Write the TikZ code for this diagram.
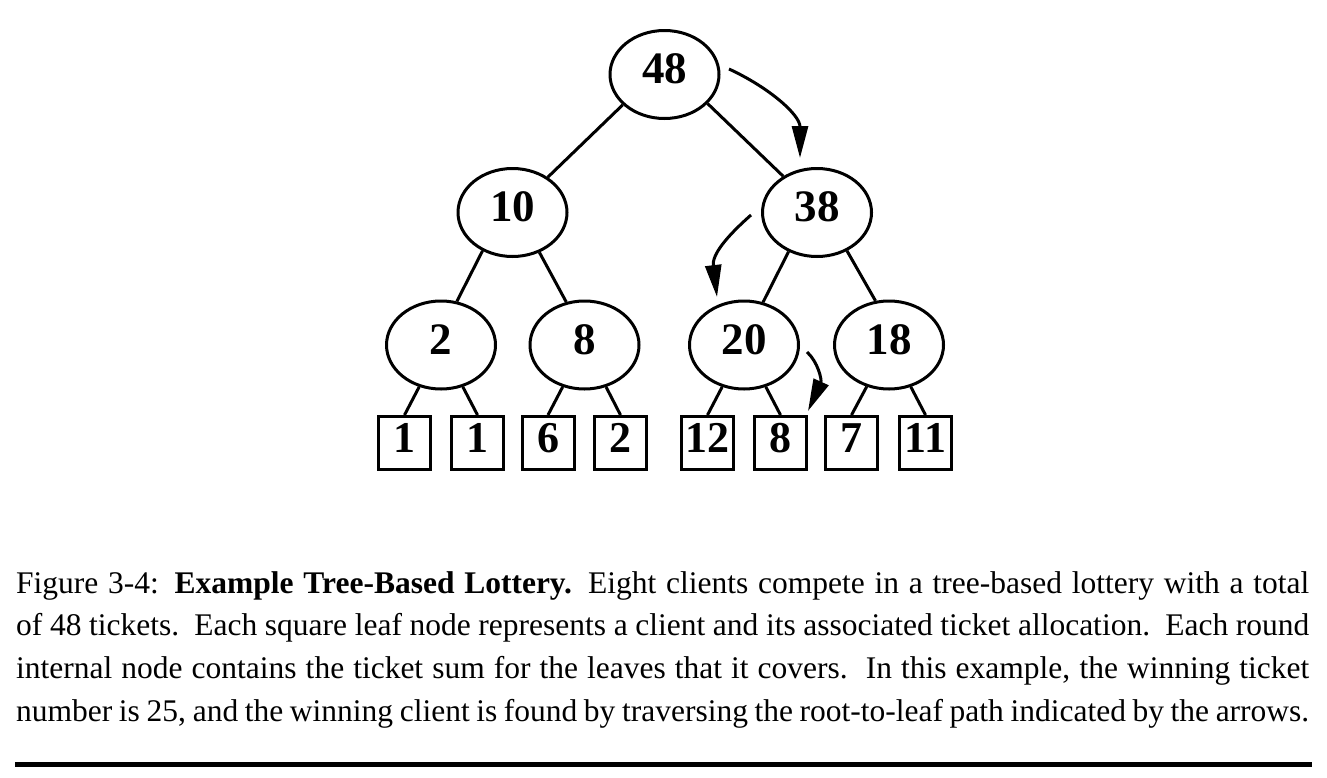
\documentclass[tikz,border=0pt]{standalone}
\usepackage{fontspec}
\setmainfont{Liberation Serif}
\usetikzlibrary{shapes.geometric,arrows.meta}
\begin{document}
\begin{tikzpicture}[x=1pt,y=-1pt,
  inner/.style={draw,ellipse,line width=3pt,minimum width=109pt,minimum height=88pt,inner sep=0pt,
    font=\fontsize{45}{45}\selectfont\bfseries,text height=30pt,text depth=12pt},
  leaf/.style={draw,rectangle,line width=3pt,minimum width=52pt,minimum height=53pt,inner sep=0pt,
    font=\fontsize{44}{44}\selectfont\bfseries,text height=30pt,text depth=12pt},
  edge/.style={line width=3pt},
  walk/.style={line width=3pt,-{Triangle[length=32pt,width=16pt]}}
]
\useasboundingbox (0,0) rectangle (1327,777);

% internal nodes
\node[inner] (n48) at (664.5,74.5) {48};
\node[inner] (n10) at (512.5,212.5) {10};
\node[inner] (n38) at (817,212.5) {38};
\node[inner] (n2)  at (441,345) {2};
\node[inner] (n8)  at (584.5,345) {8};
\node[inner] (n20) at (744,345) {20};
\node[inner] (n18) at (889,345) {18};

% leaves
\node[leaf] (l1) at (404.5,443) {1};
\node[leaf] (l2) at (477.5,443) {1};
\node[leaf] (l3) at (548,443) {6};
\node[leaf] (l4) at (620.5,443) {2};
\node[leaf] (l5) at (707.5,443) {12};
\node[leaf] (l6) at (780.5,443) {8};
\node[leaf] (l7) at (851.5,443) {7};
\node[leaf] (l8) at (925.5,443) {11};

% tree edges
\draw[edge] (n48.216) -- (n10.45);
\draw[edge] (n48.326) -- (n38.133);
\draw[edge] (n10.232) -- (n2.70);
\draw[edge] (n10.304) -- (n8.113);
\draw[edge] (n38.234) -- (n20.66);
\draw[edge] (n38.308) -- (n18.107);
\draw[edge] (n2) -- (l1.north);
\draw[edge] (n2) -- (l2.north);
\draw[edge] (n8) -- (l3.north);
\draw[edge] (n8) -- (l4.north);
\draw[edge] (n20) -- (l5.north);
\draw[edge] (n20) -- (l6.north);
\draw[edge] (n18) -- (l7.north);
\draw[edge] (n18) -- (l8.north);

% traversal arrows
\coordinate (a1s) at (729,69);
\coordinate (a1e) at (800,158);
\coordinate (a2s) at (751,215);
\coordinate (a2e) at (717,297);
\coordinate (a3s) at (807,352);
\coordinate (a3e) at (808,411);
\draw[walk] (a1s) .. controls (770,88) and (800,115) .. (a1e);
\draw[walk] (a2s) .. controls (725,238) and (712,255) .. (a2e);
\draw[walk] (a3s) .. controls (818,362) and (822,380) .. (a3e);

% caption
\node[anchor=base west,inner sep=0pt,font=\fontsize{31.5}{42.7}\selectfont] (cap) at (16,593) {\vtop{\hsize=1293pt\baselineskip=42.7pt
\hbox to\hsize{Figure 3-4:\enskip\textbf{Example Tree-Based Lottery.} Eight clients compete in a tree-based lottery with a total}
\hbox to\hsize{of 48 tickets.\ \ Each square leaf node represents a client and its associated ticket allocation.\ \ Each round}
\hbox to\hsize{internal node contains the ticket sum for the leaves that it covers.\ \ In this example, the winning ticket}
\hbox to\hsize{number is 25, and the winning client is found by traversing the root-to-leaf path indicated by the arrows.}}};

% bottom rule
\draw[line width=4.5pt] (15,764.5) -- (1312,764.5);
\end{tikzpicture}
\end{document}
